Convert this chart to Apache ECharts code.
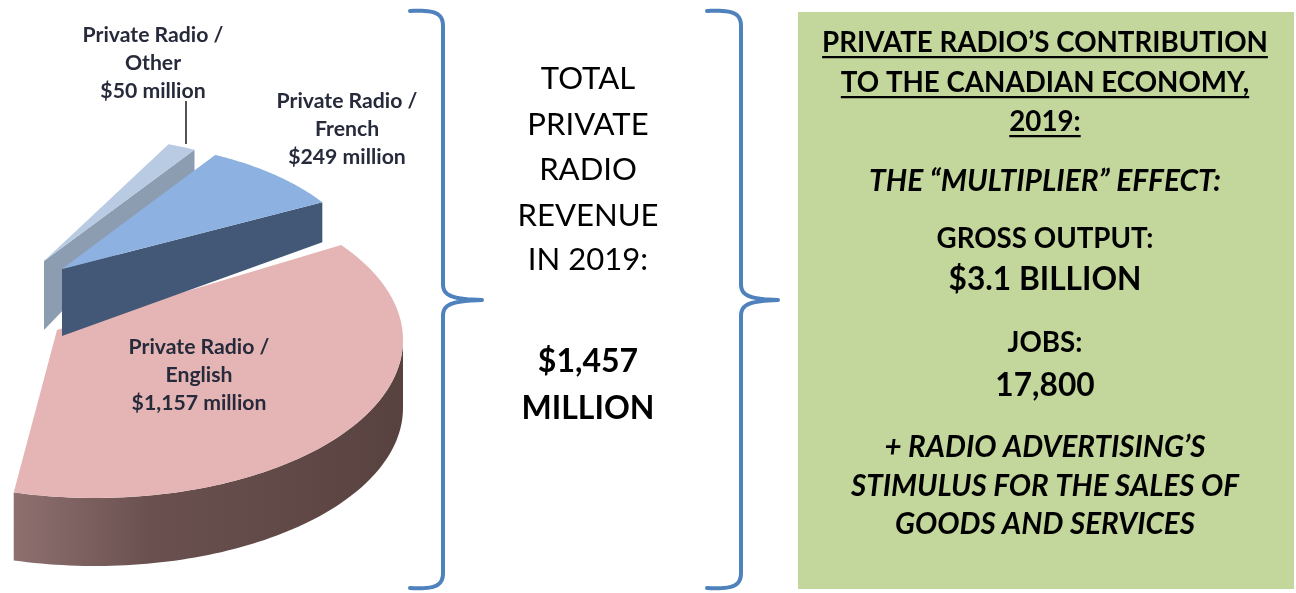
<!DOCTYPE html>
<html>
<head>
<meta charset="utf-8">
<script src="https://cdn.jsdelivr.net/npm/echarts@6.0.0/dist/echarts.min.js"></script>
<style>
html,body{margin:0;padding:0;background:#ffffff;}
#chart{width:1296px;height:593px;}
</style>
</head>
<body>
<div id="chart"></div>
<script>
// ---------------- data ----------------
const categories = ['Private Radio / English', 'Private Radio / French', 'Private Radio / Other'];
const revenueMillions = [1157, 249, 50];
const totalRevenueMillions = 1457;
const totalTitleLines = ['TOTAL', 'PRIVATE', 'RADIO', 'REVENUE', 'IN 2019:'];
const contributionTitleLines = ['PRIVATE RADIO\u2019S CONTRIBUTION', 'TO THE CANADIAN ECONOMY,', '2019:'];
const multiplierText = 'THE \u201CMULTIPLIER\u201D EFFECT:';
const grossOutputLabel = 'GROSS OUTPUT:';
const grossOutputBillions = 3.1;
const jobsLabel = 'JOBS:';
const jobsCount = 17800;
const stimulusLines = ['+ RADIO ADVERTISING\u2019S', 'STIMULUS FOR THE SALES OF', 'GOODS AND SERVICES'];

// ---------------- style / layout ----------------
const FONT = 'Lato';
const pie = { rx: 308, ry: 158, sweep: 179, endAngle: 105.3, apexDx: -38, apexDy: -10 };
const angleOrder = [2, 1, 0]; // Other, French, English (clockwise)
const sliceStyle = {
  'Private Radio / English': { cx: 95, cy: 340, scale: 1, rot: 0, dApex: 68, dRim: 68, base: 10,
    top: '#e4b5b4', endFace: '#6b5150', label: [199, 375] },
  'Private Radio / French': { cx: 100, cy: 279, scale: 0.87, rot: 3, dApex: 67, dRim: 40, base: 20,
    top: '#8db2e1', endFace: '#435876', label: [347, 129] },
  'Private Radio / Other': { cx: 82, cy: 271, scale: 0.85, rot: 3, dApex: 69, dRim: 24, base: 0,
    top: '#b8cbe3', endFace: '#8c9db1', label: [153, 63], leader: [[186, 101], [186, 144]] }
};

const mctx = document.createElement('canvas').getContext('2d');
function measure(text, size, weight, style) {
  mctx.font = (style || 'normal') + ' ' + (weight || 'normal') + ' ' + size + 'px ' + FONT;
  return mctx.measureText(text).width;
}
function fit(text, target, weight, style) {
  return 100 * target / measure(text, 100, weight, style);
}

const total = revenueMillions.reduce((a, b) => a + b, 0);
const labelSize = fit('Private Radio /', 141, 'bold');

function renderItem(params, api) {
  const i = api.value(0);
  const v = api.value(1);
  const name = categories[i];
  const st = sliceStyle[name];
  let before = 0;
  for (const j of angleOrder) { if (j === i) break; before += revenueMillions[j]; }
  const deg = Math.PI / 180;
  const start = pie.endAngle - pie.sweep;
  const a0 = (start + pie.sweep * before / total + st.rot) * deg;
  const a1 = a0 + pie.sweep * v / total * deg;
  const rx = pie.rx * st.scale, ry = pie.ry * st.scale;
  const P = t => [st.cx + rx * Math.cos(t), st.cy + ry * Math.sin(t)];
  const A = [st.cx + pie.apexDx, st.cy + pie.apexDy];
  const n = 80;
  const children = [];
  if (Math.cos(a1) > 0) {
    const R = P(a1);
    children.push({ type: 'polygon', z2: st.base + 1,
      shape: { points: [A, R, [R[0], R[1] + st.dRim], [A[0], A[1] + st.dApex]] },
      style: { fill: st.endFace } });
  }
  if (Math.cos(a0) < 0) {
    const R = P(a0);
    children.push({ type: 'polygon', z2: st.base + 1,
      shape: { points: [A, R, [R[0], R[1] + st.dRim], [A[0], A[1] + st.dApex]] },
      style: { fill: st.endFace } });
  }
  const r0 = Math.max(a0, 0), r1 = Math.min(a1, Math.PI);
  if (r1 > r0) {
    const topPts = [], botPts = [];
    for (let k = 0; k <= n; k++) {
      const p = P(r0 + (r1 - r0) * k / n);
      topPts.push(p);
      botPts.push([p[0], p[1] + st.dRim]);
    }
    children.push({ type: 'polygon', z2: st.base + 1,
      shape: { points: topPts.concat(botPts.reverse()) },
      style: { fill: { type: 'linear', x: 0, y: 0, x2: 1, y2: 0, colorStops: [
        { offset: 0, color: '#8e706f' }, { offset: 0.35, color: '#6a5150' }, { offset: 1, color: '#584240' }] } } });
  }
  const arc = [A];
  for (let k = 0; k <= n; k++) arc.push(P(a0 + (a1 - a0) * k / n));
  children.push({ type: 'polygon', z2: st.base + 2, shape: { points: arc }, style: { fill: st.top } });
  const parts = name.split(' / ');
  children.push({ type: 'text', z2: 100, x: st.label[0], y: st.label[1],
    style: { text: parts[0] + ' /\n' + parts[1] + '\n$' + v.toLocaleString('en-US') + ' million',
      fontFamily: FONT, fontWeight: 'bold', fontSize: labelSize, lineHeight: 28,
      fill: '#262a3a', align: 'center', verticalAlign: 'middle' } });
  if (st.leader) {
    children.push({ type: 'polyline', z2: 100, shape: { points: st.leader },
      style: { stroke: '#1a1a1a', lineWidth: 1.5, fill: null } });
  }
  return { type: 'group', children: children };
}

// ---------------- braces / panel ----------------
const graphics = [];
function cubic(p0, p1, p2, p3, out) {
  for (let k = 1; k <= 16; k++) {
    const t = k / 16, u = 1 - t;
    out.push([u*u*u*p0[0] + 3*u*u*t*p1[0] + 3*u*t*t*p2[0] + t*t*t*p3[0],
              u*u*u*p0[1] + 3*u*u*t*p1[1] + 3*u*t*t*p2[1] + t*t*t*p3[1]]);
  }
}
function bracePoints(xHook, xLine, xTip, yTop, yMid, yBot) {
  const pts = [[xHook, yTop]];
  cubic([xHook, yTop], [xLine - 10, yTop - 1], [xLine, yTop + 1], [xLine, yTop + 15], pts);
  pts.push([xLine, yMid - 16]);
  cubic([xLine, yMid - 16], [xLine, yMid - 4], [xLine + 9, yMid - 1], [xTip, yMid], pts);
  cubic([xTip, yMid], [xLine + 9, yMid + 1], [xLine, yMid + 4], [xLine, yMid + 16], pts);
  pts.push([xLine, yBot - 15]);
  cubic([xLine, yBot - 15], [xLine, yBot - 1], [xLine - 10, yBot + 1], [xHook, yBot], pts);
  return pts;
}
graphics.push({ type: 'polyline', shape: { points: bracePoints(410, 443, 482, 11, 300, 588) },
  style: { stroke: '#4f81bd', lineWidth: 4, fill: null, lineCap: 'round', lineJoin: 'round' } });
graphics.push({ type: 'polyline', shape: { points: bracePoints(707, 741, 778, 11, 300, 588) },
  style: { stroke: '#4f81bd', lineWidth: 4, fill: null, lineCap: 'round', lineJoin: 'round' } });
graphics.push({ type: 'rect', shape: { x: 798, y: 12, width: 496, height: 577 }, style: { fill: '#c3d69b' } });

function addText(text, x, y, size, weight, style) {
  graphics.push({ type: 'text', x: x, y: y,
    style: { text: text, fontFamily: FONT, fontSize: size, fontWeight: weight || 'normal', fontStyle: style || 'normal',
      fill: '#000000', align: 'center', verticalAlign: 'middle' } });
}
// middle column
const midX = 588;
const midSize = fit('REVENUE', 141, 'normal');
const midY = [79, 125, 170, 216, 260];
totalTitleLines.forEach((t, k) => addText(t, midX, midY[k], midSize, 'normal'));
const midBold = fit('MILLION', 133, 'bold');
addText('$' + totalRevenueMillions.toLocaleString('en-US'), midX, 362, midBold, 'bold');
addText('MILLION', midX, 409, midBold, 'bold');

// right panel
const rx0 = 1045;
const headSize = fit(contributionTitleLines[0], 446, 'bold');
const headY = [43, 83, 122];
contributionTitleLines.forEach((t, k) => {
  addText(t, rx0, headY[k], headSize, 'bold');
  const w = measure(t, headSize, 'bold');
  graphics.push({ type: 'rect', shape: { x: rx0 - w / 2, y: headY[k] + 13, width: w, height: 2.2 }, style: { fill: '#000' } });
});
addText(multiplierText, rx0, 181, fit(multiplierText, 352, 'bold', 'italic'), 'bold', 'italic');
const labSize = fit(grossOutputLabel, 217, 'bold');
addText(grossOutputLabel, rx0, 239, labSize, 'bold');
const bigLabel = '$' + grossOutputBillions.toFixed(1) + ' BILLION';
const bigSize = fit(bigLabel, 193, 'bold');
addText(bigLabel, rx0, 280, bigSize, 'bold');
addText(jobsLabel, rx0, 343, labSize, 'bold');
addText(jobsCount.toLocaleString('en-US'), rx0, 386, bigSize, 'bold');
const stimSize = fit(stimulusLines[1], 388, 'bold', 'italic');
[447, 486, 524].forEach((y, k) => addText(stimulusLines[k], rx0, y, stimSize, 'bold', 'italic'));

const chart = echarts.init(document.getElementById('chart'), null, { renderer: 'canvas' });
chart.setOption({
  backgroundColor: '#ffffff',
  animation: false,
  series: [{
    type: 'custom',
    coordinateSystem: 'none',
    renderItem: renderItem,
    data: revenueMillions.map((v, i) => ({ name: categories[i], value: [i, v] }))
  }],
  graphic: { elements: graphics }
});
</script>
</body>
</html>
